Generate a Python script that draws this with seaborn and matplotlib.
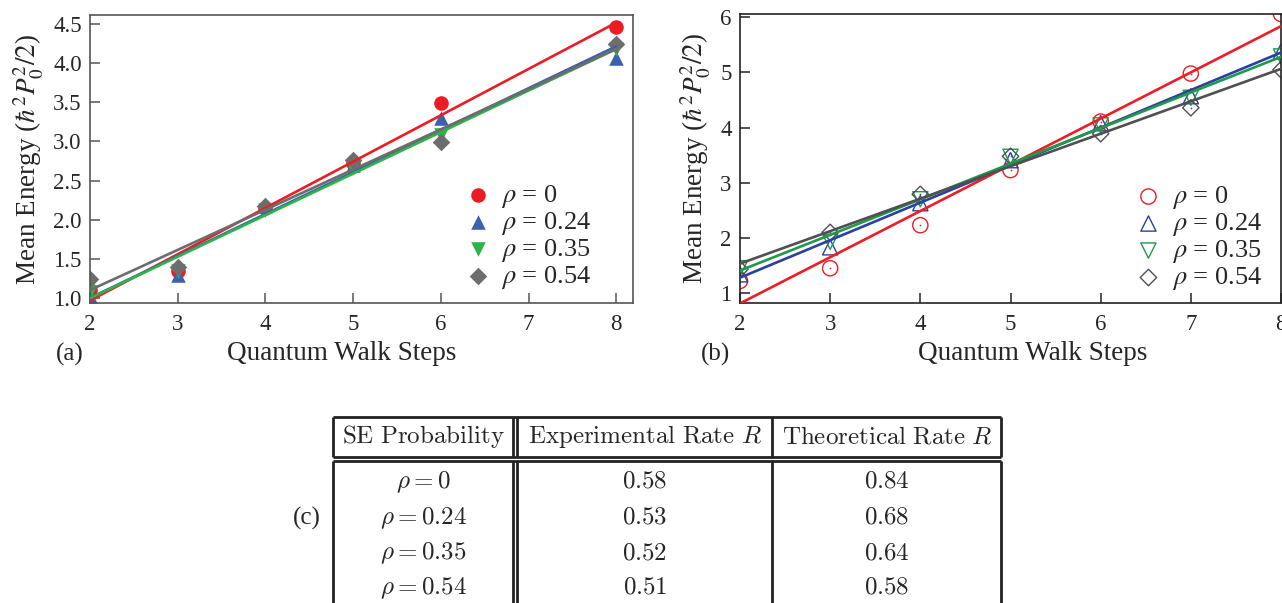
import numpy as np
import pandas as pd
import seaborn as sns
import matplotlib.pyplot as plt

# values
steps_a = [2, 3, 4, 5, 6, 8]
steps_b = [2, 3, 4, 5, 6, 7, 8]
rho_names = ['0', '0.24', '0.35', '0.54']

# panel (a): experiment
a_rho0 = [1.10, 1.35, 2.15, 2.72, 3.49, 4.46]
a_rho24 = [1.03, 1.30, 2.18, 2.70, 3.30, 4.07]
a_rho35 = [1.08, 1.35, 2.12, 2.66, 3.08, 4.18]
a_rho54 = [1.24, 1.40, 2.18, 2.76, 2.99, 4.25]

# panel (b): theory
b_rho0 = [1.22, 1.45, 2.23, 3.23, 4.11, 4.98, 6.06]
b_rho24 = [1.34, 1.83, 2.63, 3.41, 4.08, 4.57, 5.38]
b_rho35 = [1.45, 1.93, 2.70, 3.47, 4.04, 4.54, 5.29]
b_rho54 = [1.43, 2.10, 2.79, 3.48, 3.89, 4.36, 5.05]

# table (c)
table_header = ['SE Probability', 'Experimental Rate', 'Theoretical Rate']
exp_rate = ['0.58', '0.53', '0.52', '0.51']
theo_rate = ['0.84', '0.68', '0.64', '0.58']

colors_a = ['#ec1c24', '#3f60ae', '#2eb34b', '#6d6d6d']
colors_b = ['#ee1c24', '#2c40a0', '#1e9a48', '#505050']
markers = ['o', '^', 'v', 'D']

sns.set_theme(style='ticks')
plt.rcParams['font.family'] = ['Liberation Serif', 'DejaVu Serif']
plt.rcParams['mathtext.fontset'] = 'stix'

fig = plt.figure(figsize=(12.82, 6.03), dpi=100)
W, H = 1282, 603
ax_a = fig.add_axes([90 / W, 1 - 303 / H, 543 / W, 288 / H])
ax_b = fig.add_axes([740 / W, 1 - 303 / H, 541 / W, 289 / H])

ylab = r'Mean Energy ($\hbar^2 P_0^{2}/2$)'
leg_kw = dict(loc='lower right', frameon=False, fontsize=19, handletextpad=0.3,
              labelspacing=0.0, borderaxespad=0.0, handlelength=1.2)

# panel (a)
series_a = [a_rho0, a_rho24, a_rho35, a_rho54]
for vals, c, m, name in zip(series_a, colors_a, markers, rho_names):
    ms = 80 if m == 'D' else 110
    sns.scatterplot(x=steps_a, y=vals, color=c, marker=m, s=ms, edgecolor=c,
                    linewidth=0, ax=ax_a, label=r'$\rho$ = ' + name, zorder=2)
for vals, c in zip(series_a, colors_a):
    sns.regplot(x=steps_a, y=vals, scatter=False, ci=None, color=c,
                line_kws=dict(lw=1.9, zorder=3), ax=ax_a)

ax_a.set_xlim(2, 8.19)
ax_a.set_ylim(0.936, 4.615)
ax_a.set_xticks([2, 3, 4, 5, 6, 7, 8])
ax_a.set_yticks(np.arange(1.0, 4.51, 0.5))
ax_a.set_yticklabels([f'{v:.1f}' for v in np.arange(1.0, 4.51, 0.5)])
for sp in ax_a.spines.values():
    sp.set_color('#555555')
    sp.set_linewidth(1.2)
ax_a.tick_params(direction='in', length=7, width=1.1, color='#555555',
                 labelsize=16.5, pad=6)
ax_a.tick_params(axis='x', pad=8)
ax_a.set_ylabel(ylab, fontsize=19.5, labelpad=5)
ax_a.set_xlabel('')
ax_a.legend(bbox_to_anchor=(0.943, 0.005), **leg_kw)

# panel (b)
series_b = [b_rho0, b_rho24, b_rho35, b_rho54]
for vals, c, m, name in zip(series_b, colors_b, markers, rho_names):
    ms = 70 if m == 'D' else 120
    sns.scatterplot(x=steps_b, y=vals, marker=m, s=ms, facecolor='none',
                    edgecolor=c, linewidth=1.0, ax=ax_b,
                    label=r'$\rho$ = ' + name, zorder=2)
    if m in ('o', 'D'):
        sns.scatterplot(x=steps_b, y=vals, marker='.', s=6, color=c,
                        linewidth=0, ax=ax_b, zorder=2)
for vals, c in zip(series_b, colors_b):
    sns.regplot(x=steps_b, y=vals, scatter=False, ci=None, color=c,
                line_kws=dict(lw=1.9, zorder=3), ax=ax_b)

ax_b.set_xlim(2, 8)
ax_b.set_ylim(0.82, 6.06)
ax_b.set_xticks([2, 3, 4, 5, 6, 7, 8])
ax_b.set_yticks([1, 2, 3, 4, 5, 6])
for sp in ax_b.spines.values():
    sp.set_color('#222222')
    sp.set_linewidth(1.2)
ax_b.tick_params(direction='in', length=7, width=1.1, color='#222222',
                 labelsize=16.5, pad=6)
ax_b.tick_params(axis='x', pad=8)
ax_b.set_ylabel(ylab, fontsize=19.5, labelpad=5)
ax_b.set_xlabel('')
handles, labels = ax_b.get_legend_handles_labels()
ax_b.legend(handles[:4], labels[:4], bbox_to_anchor=(0.985, 0.0), **leg_kw)

fig.text(342 / W, 1 - 353 / H, 'Quantum Walk Steps', fontsize=19.5,
         ha='center', va='center')
fig.text(1033 / W, 1 - 353 / H, 'Quantum Walk Steps', fontsize=19.5,
         ha='center', va='center')
fig.text(70 / W, 1 - 354 / H, '(a)', fontsize=18, ha='center', va='center')
fig.text(715 / W, 1 - 354 / H, '(b)', fontsize=18, ha='center', va='center')
fig.text(307 / W, 1 - 518 / H, '(c)', fontsize=18, ha='center', va='center')

# table (c) drawn on an overlay in pixel units
tab = fig.add_axes([0, 0, 1, 1], zorder=-1)
tab.set_xlim(0, W)
tab.set_ylim(H, 0)
tab.axis('off')
lc = dict(color='#222222', lw=2.0, solid_capstyle='butt')
x_left, x_d1, x_d2, x_c3, x_right = 333, 513, 517, 772, 1001
y_top, y_h1, y_h2, y_bot = 417, 457, 461, 603
for yy in (y_top, y_h1, y_h2):
    tab.plot([x_left, x_right], [yy, yy], **lc)
for xx in (x_left, x_d1, x_d2, x_c3, x_right):
    tab.plot([xx, xx], [y_top, y_h1], **lc)
    tab.plot([xx, xx], [y_h2, y_bot], **lc)

col_x = [423, 645, 887]
tfs = 18
tab.text(col_x[0], 437, r'$\mathrm{SE\ Probability}$', fontsize=tfs,
         ha='center', va='center', math_fontfamily='cm')
tab.text(col_x[1], 437, r'$\mathrm{' + table_header[1].replace(' ', r'\ ') + r'}\ R$',
         fontsize=tfs, ha='center', va='center', math_fontfamily='cm')
tab.text(col_x[2], 437, r'$\mathrm{' + table_header[2].replace(' ', r'\ ') + r'}\ R$',
         fontsize=tfs, ha='center', va='center', math_fontfamily='cm')
row_y = [482, 518, 553, 588]
for yy, name, e, t in zip(row_y, rho_names, exp_rate, theo_rate):
    tab.text(col_x[0], yy, r'$\rho = ' + name + '$', fontsize=tfs,
             ha='center', va='center', math_fontfamily='cm')
    tab.text(col_x[1], yy, '$' + e + '$', fontsize=tfs, ha='center',
             va='center', math_fontfamily='cm')
    tab.text(col_x[2], yy, '$' + t + '$', fontsize=tfs, ha='center',
             va='center', math_fontfamily='cm')

fig.savefig('out.png', dpi=100)
